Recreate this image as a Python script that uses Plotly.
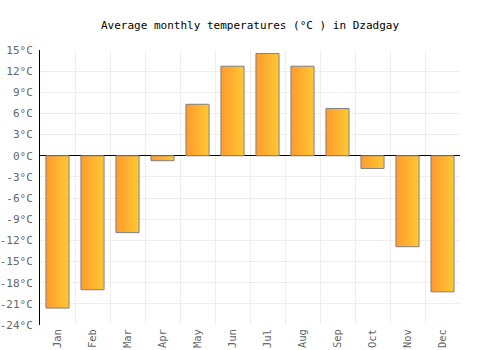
import plotly.graph_objects as go

months = ["Jan", "Feb", "Mar", "Apr", "May", "Jun", "Jul", "Aug", "Sep", "Oct", "Nov", "Dec"]
temps = [-21.6, -19.0, -10.9, -0.7, 7.3, 12.7, 14.5, 12.7, 6.7, -1.8, -12.9, -19.3]
y_ticks = list(range(-24, 16, 3))

half = 0.33
fig = go.Figure()
for i, (m, v) in enumerate(zip(months, temps)):
    xs = [i - half, i + half, i + half, i - half, i - half]
    ys = [0, 0, v, v, 0]
    fig.add_trace(go.Scatter(
        x=xs, y=ys, mode="lines", fill="toself",
        line=dict(color="#808080", width=1),
        fillgradient=dict(type="horizontal",
                          colorscale=[[0, "#FF9A2E"], [1, "#FFC933"]]),
        hoverinfo="skip", showlegend=False, name=m))

font = "DejaVu Sans Mono"
fig.update_layout(
    width=500, height=350,
    margin=dict(l=40, r=40, t=50, b=25, autoexpand=False),
    paper_bgcolor="white", plot_bgcolor="white",
    title=dict(text="Average monthly temperatures (°C ) in Dzadgay",
               x=0.5, xanchor="center", y=0.928, yanchor="middle",
               font=dict(family=font, size=11, color="#000")),
    font=dict(family=font, size=11, color="#666"),
    xaxis=dict(range=[-0.5, 11.5], tickmode="array",
               tickvals=list(range(12)), ticktext=months,
               tickangle=-90, showgrid=False, zeroline=False,
               ticks="", ticklen=0, ticklabelstandoff=1,
               tickfont=dict(size=10.5),
               minor=dict(tickmode="linear", tick0=-0.5, dtick=1,
                          showgrid=True, gridcolor="#eeeeee", gridwidth=1, ticks=""),
               showline=False, fixedrange=True),
    yaxis=dict(range=[-24, 15], tickmode="array", tickvals=y_ticks,
               ticktext=[f"{t}°C" for t in y_ticks],
               showgrid=True, gridcolor="#eeeeee", gridwidth=1,
               zeroline=True, zerolinecolor="#000", zerolinewidth=1,
               showline=True, linecolor="#000", linewidth=1,
               ticks="", ticklabelstandoff=4, fixedrange=True),
)
fig.write_html("out.html")
